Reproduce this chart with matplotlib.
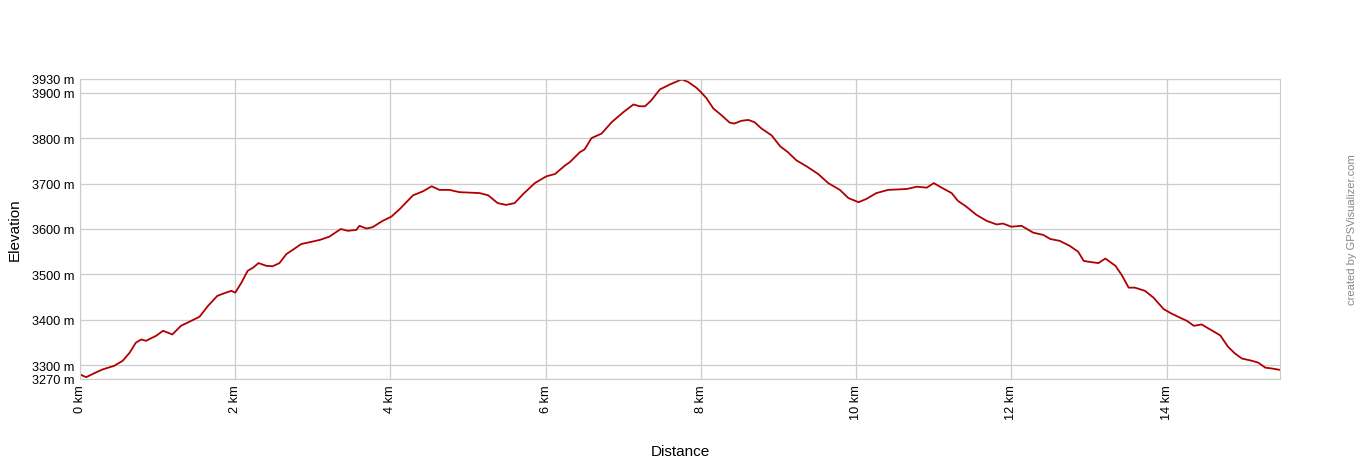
import matplotlib
matplotlib.use("Agg")
import matplotlib.pyplot as plt

plt.rcParams['font.family'] = ['Liberation Sans', 'DejaVu Sans']

# distance (km) and elevation (m)
dist_km = [0.00, 0.08, 0.20, 0.29, 0.44, 0.55, 0.64, 0.72, 0.79, 0.85, 0.98, 1.07, 1.19, 1.30,
           1.41, 1.54, 1.65, 1.77, 1.88, 1.95, 2.00, 2.08, 2.16, 2.23, 2.30, 2.40, 2.48, 2.57,
           2.66, 2.74, 2.85, 2.96, 3.09, 3.21, 3.36, 3.45, 3.56, 3.60, 3.69, 3.77, 3.90, 4.01,
           4.12, 4.29, 4.42, 4.53, 4.63, 4.76, 4.89, 5.15, 5.26, 5.38, 5.49, 5.60, 5.71, 5.86,
           6.01, 6.12, 6.25, 6.31, 6.44, 6.50, 6.59, 6.72, 6.85, 7.00, 7.13, 7.21, 7.28, 7.36,
           7.47, 7.60, 7.68, 7.75, 7.83, 7.94, 8.00, 8.07, 8.16, 8.26, 8.37, 8.43, 8.52, 8.61,
           8.69, 8.78, 8.91, 9.02, 9.12, 9.23, 9.36, 9.51, 9.64, 9.79, 9.90, 10.03, 10.13, 10.26,
           10.41, 10.65, 10.78, 10.91, 11.00, 11.10, 11.23, 11.31, 11.42, 11.55, 11.68, 11.81,
           11.89, 12.00, 12.13, 12.19, 12.28, 12.41, 12.50, 12.62, 12.75, 12.86, 12.93, 12.99,
           13.12, 13.21, 13.34, 13.42, 13.51, 13.59, 13.72, 13.83, 13.96, 14.05, 14.17, 14.26,
           14.35, 14.45, 14.54, 14.69, 14.79, 14.88, 14.97, 15.10, 15.18, 15.27, 15.36, 15.46]
elev_m = [3280, 3274, 3284, 3291, 3299, 3310, 3328, 3350, 3357, 3354, 3365, 3376, 3368, 3387,
          3396, 3407, 3431, 3453, 3460, 3464, 3460, 3482, 3508, 3515, 3525, 3519, 3518, 3525,
          3545, 3554, 3567, 3571, 3576, 3583, 3600, 3596, 3598, 3607, 3601, 3604, 3618, 3627,
          3644, 3674, 3683, 3694, 3686, 3686, 3681, 3679, 3674, 3657, 3653, 3657, 3677, 3701,
          3716, 3721, 3740, 3747, 3769, 3775, 3800, 3810, 3835, 3857, 3874, 3870, 3870, 3883,
          3907, 3918, 3924, 3929, 3924, 3911, 3901, 3888, 3865, 3851, 3834, 3832, 3838, 3840,
          3835, 3821, 3806, 3782, 3769, 3751, 3738, 3721, 3701, 3686, 3668, 3659, 3666, 3679,
          3686, 3688, 3693, 3691, 3701, 3691, 3679, 3662, 3649, 3631, 3618, 3610,
          3612, 3605, 3607, 3601, 3592, 3587, 3578, 3574, 3563, 3550, 3530, 3528,
          3525, 3535, 3519, 3499, 3471, 3471, 3464, 3449, 3424, 3415, 3405, 3398,
          3387, 3390, 3381, 3366, 3341, 3326, 3315, 3310, 3306, 3295, 3293, 3290]

y_ticks = [3270, 3300, 3400, 3500, 3600, 3700, 3800, 3900, 3930]
x_ticks = [0, 2, 4, 6, 8, 10, 12, 14]

fig = plt.figure(figsize=(13.6, 4.6), dpi=100)
ax = fig.add_axes([80 / 1360, 1 - 380 / 460, 1200 / 1360, 300 / 460])

ax.plot(dist_km, elev_m, color='#b00000', linewidth=1.3)

ax.set_xlim(0, 15.46)
ax.set_ylim(3270, 3930)
ax.set_yticks(y_ticks)
ax.set_yticklabels([f"{v} m" for v in y_ticks], fontsize=9.2)
ax.set_xticks(x_ticks)
ax.set_xticklabels([f"{v} km" for v in x_ticks], rotation=90, fontsize=9.2)
ax.tick_params(length=0, pad=4)
ax.grid(True, color='#cccccc', linewidth=0.9)
ax.set_axisbelow(True)
for s in ax.spines.values():
    s.set_color('#cccccc')

fig.text(15 / 1360, 1 - 230 / 460, "Elevation", rotation=90, ha='center', va='center', fontsize=11)
fig.text(680 / 1360, 1 - 452 / 460, "Distance", ha='center', va='center', fontsize=11)
fig.text(1352 / 1360, 1 - 230 / 460, "created by GPSVisualizer.com", rotation=90,
         ha='center', va='center', fontsize=8, color='#888888')

fig.savefig("out.png", dpi=100)
